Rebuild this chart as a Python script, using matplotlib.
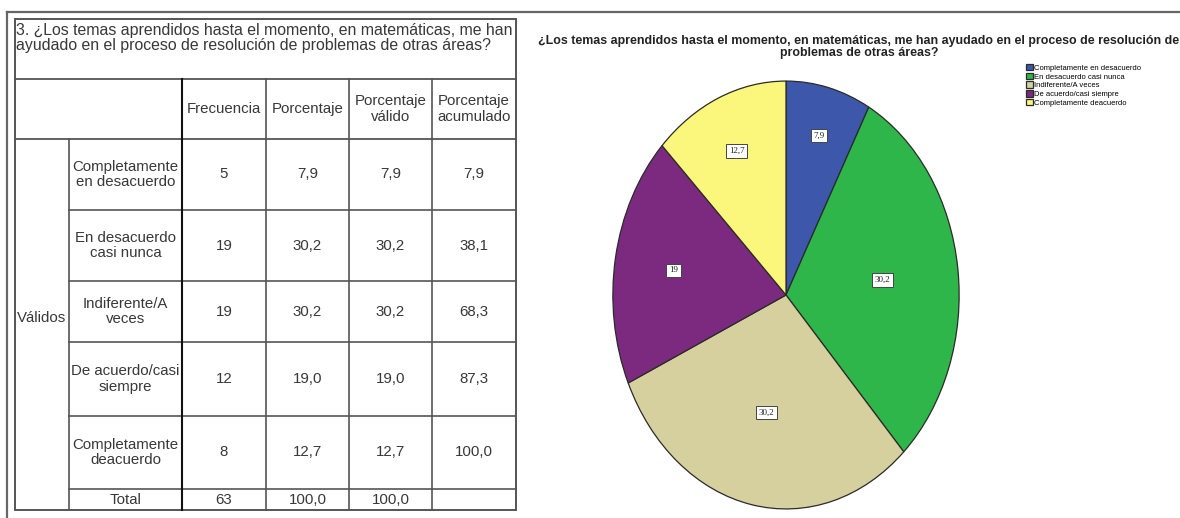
import numpy as np
import matplotlib.pyplot as plt
from matplotlib.patches import Rectangle

question = ("3. ¿Los temas aprendidos hasta el momento, en matemáticas, me han\n"
            "ayudado en el proceso de resolución de problemas de otras áreas?")
chart_title = ("¿Los temas aprendidos hasta el momento, en matemáticas, me han ayudado en el proceso de resolución de\n"
               "problemas de otras áreas?")
headers = ['Frecuencia', 'Porcentaje', 'Porcentaje\nválido', 'Porcentaje\nacumulado']
row_labels = ['Completamente\nen desacuerdo', 'En desacuerdo\ncasi nunca', 'Indiferente/A\nveces',
              'De acuerdo/casi\nsiempre', 'Completamente\ndeacuerdo', 'Total']
frecuencia = ['5', '19', '19', '12', '8', '63']
porcentaje = ['7,9', '30,2', '30,2', '19,0', '12,7', '100,0']
porc_valido = ['7,9', '30,2', '30,2', '19,0', '12,7', '100,0']
porc_acum = ['7,9', '38,1', '68,3', '87,3', '100,0', '']

# Pie chart data
categories = ['Completamente en desacuerdo', 'En desacuerdo casi nunca', 'Indiferente/A veces',
              'De acuerdo/casi siempre', 'Completamente deacuerdo']
counts = [5, 19, 19, 12, 8]
pie_labels = ['7,9', '30,2', '30,2', '19', '12,7']
colors = ['#3d57ab', '#2eb64b', '#d6cf9e', '#7b2a7f', '#fbf67c']

W, H = 1180, 518
fig = plt.figure(figsize=(11.8, 5.18), dpi=100)
fig.patch.set_facecolor('white')

# full-figure axes in pixel units for the table
tab = fig.add_axes([0, 0, 1, 1])
tab.set_xlim(0, W)
tab.set_ylim(H, 0)
tab.axis('off')

line_col = '#555555'
txt_col = '#383838'
tfont = 'Liberation Sans'

# outer frame
tab.plot([7, W], [12, 12], color='#666666', lw=1.6)
tab.plot([7, 7], [12, H], color='#666666', lw=1.6)

# table layout
left, right = 15, 516
top, title_bot, head_bot = 19, 79, 139
row_edges = [139, 210, 281, 342, 416, 489, 510]
col_edges = [69, 182, 266, 349, 432, 516]

tab.add_patch(Rectangle((left, top), right - left, row_edges[-1] - top,
                        fill=False, ec=line_col, lw=1.4))
tab.plot([left, right], [title_bot, title_bot], color=line_col, lw=1.3)
tab.plot([left, right], [head_bot, head_bot], color=line_col, lw=1.3)
for y in row_edges[1:-1]:
    tab.plot([col_edges[0], right], [y, y], color=line_col, lw=1.2)
tab.plot([col_edges[0], col_edges[0]], [head_bot, row_edges[-1]], color=line_col, lw=1.2)
tab.plot([col_edges[1], col_edges[1]], [title_bot, row_edges[-1]], color='#111111', lw=1.5)
for x in col_edges[2:-1]:
    tab.plot([x, x], [title_bot, row_edges[-1]], color=line_col, lw=1.2)

tab.text(16, 38, question, ha='left', va='center', fontsize=11.4, color=txt_col,
         family=tfont, linespacing=1.0)

for i, h in enumerate(headers):
    cx = (col_edges[i + 1] + col_edges[i + 2]) / 2
    tab.text(cx, (title_bot + head_bot) / 2, h, ha='center', va='center',
             fontsize=10.8, color=txt_col, family=tfont, linespacing=1.1)

tab.text((left + col_edges[0]) / 2, 318, 'Válidos', ha='center', va='center',
         fontsize=10.8, color=txt_col, family=tfont)

columns = [frecuencia, porcentaje, porc_valido, porc_acum]
for r, lab in enumerate(row_labels):
    cy = (row_edges[r] + row_edges[r + 1]) / 2
    tab.text((col_edges[0] + col_edges[1]) / 2, cy, lab, ha='center', va='center',
             fontsize=10.8, color=txt_col, family=tfont, linespacing=1.15)
    for c, vals in enumerate(columns):
        cx = (col_edges[c + 1] + col_edges[c + 2]) / 2
        tab.text(cx, cy, vals[r], ha='center', va='center',
                 fontsize=10.8, color=txt_col, family=tfont)

# pie chart title
fig.text(859 / W, 1 - 47 / H, chart_title, ha='center', va='center', fontsize=8.9,
         fontweight='bold', color='#222222', linespacing=1.0, family='Liberation Sans')

# pie chart (elliptical, like the SPSS output)
ax = fig.add_axes([612 / W, 1 - 510 / H, (960 - 612) / W, (510 - 80) / H])
wedges, texts = ax.pie(counts, labels=pie_labels, colors=colors, startangle=90,
                       counterclock=False, labeldistance=0.65,
                       wedgeprops=dict(edgecolor='#2a2a2a', linewidth=0.9),
                       textprops=dict(fontsize=6.5, color='#222222', ha='center', va='center',
                                      family='Liberation Serif'))
# SPSS places the value boxes at slightly different radii
label_dist = [0.77, 0.56, 0.56, 0.66, 0.73]
for w, t, d in zip(wedges, texts, label_dist):
    ang = np.deg2rad((w.theta1 + w.theta2) / 2)
    t.set_position((d * np.cos(ang), d * np.sin(ang)))
    t.set_bbox(dict(boxstyle='square,pad=0.3', fc='white', ec='#444444', lw=0.7))
ax.set_aspect('auto')
ax.set_xlim(-1.005, 1.005)
ax.set_ylim(-1.005, 1.005)

fig.legend(wedges, categories, loc='upper left', bbox_to_anchor=(1026 / W, 1 - 64 / H),
           frameon=False, handlelength=0.9, handleheight=0.9,
           handletextpad=0.15, labelspacing=0.12, borderaxespad=0, borderpad=0,
           prop=dict(family='Liberation Sans', size=5.5))

fig.savefig('out.png', dpi=100)
